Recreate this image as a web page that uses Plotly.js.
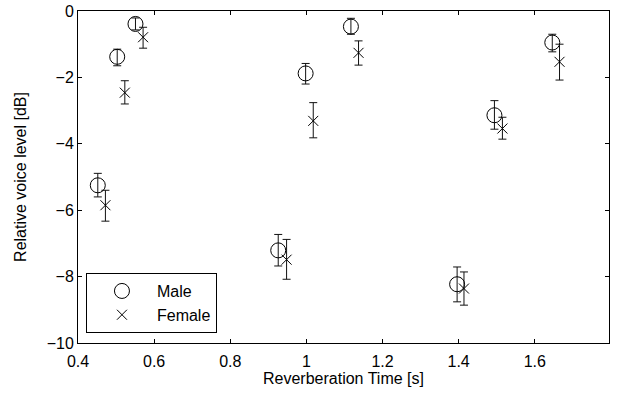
<!DOCTYPE html>
<html>
<head>
<meta charset="utf-8">
<script src="https://cdn.plot.ly/plotly-3.0.1.min.js"></script>
<style>html,body{margin:0;padding:0;background:#fff;}#chart{width:618px;height:398px;}</style>
</head>
<body>
<div id="chart"></div>
<script>
// Reverberation time [s] and relative voice level [dB]
const maleX = [0.452, 0.503, 0.551, 0.926, 0.998, 1.117, 1.396, 1.494, 1.646];
const maleY = [-5.25, -1.38, -0.39, -7.21, -1.88, -0.47, -8.23, -3.14, -0.95];
const maleErrUp = [0.36, 0.23, 0.18, 0.48, 0.30, 0.25, 0.52, 0.44, 0.25];
const maleErrDown = [0.35, 0.27, 0.18, 0.47, 0.32, 0.23, 0.53, 0.42, 0.28];

const femaleX = [0.472, 0.523, 0.571, 0.948, 1.018, 1.137, 1.414, 1.515, 1.665];
const femaleY = [-5.85, -2.46, -0.79, -7.49, -3.31, -1.26, -8.36, -3.54, -1.53];
const femaleErrUp = [0.45, 0.36, 0.30, 0.61, 0.55, 0.36, 0.50, 0.34, 0.53];
const femaleErrDown = [0.48, 0.34, 0.33, 0.59, 0.51, 0.37, 0.50, 0.32, 0.55];

const xTicks = [0.4, 0.6, 0.8, 1.0, 1.2, 1.4, 1.6];
const xTickText = ["0.4", "0.6", "0.8", "1", "1.2", "1.4", "1.6"];
const yTicks = [-10, -8, -6, -4, -2, 0];
const yTickText = ["\u221210", "\u22128", "\u22126", "\u22124", "\u22122", "0"];

const FONT = "Liberation Sans, Arial, Helvetica, sans-serif";

const traces = [
  {
    x: maleX, y: maleY, name: "Male", type: "scatter", mode: "markers",
    marker: {symbol: "circle-open", size: 15, color: "#000", line: {width: 1, color: "#000"}},
    error_y: {type: "data", symmetric: false, array: maleErrUp, arrayminus: maleErrDown,
              color: "#111", thickness: 1, width: 4}
  },
  {
    x: femaleX, y: femaleY, name: "Female", type: "scatter", mode: "markers",
    marker: {symbol: "x-thin-open", size: 10, color: "#000", line: {width: 1, color: "#000"}},
    error_y: {type: "data", symmetric: false, array: femaleErrUp, arrayminus: femaleErrDown,
              color: "#111", thickness: 1, width: 4}
  }
];

const layout = {
  width: 618, height: 398,
  margin: {l: 78, r: 9, t: 11, b: 55, pad: 0},
  paper_bgcolor: "#fff", plot_bgcolor: "#fff",
  font: {family: FONT, size: 16, color: "#000"},
  showlegend: true,
  legend: {
    x: 0.015, y: 0.03, xanchor: "left", yanchor: "bottom",
    bordercolor: "#000", borderwidth: 1, bgcolor: "#fff",
    font: {family: FONT, size: 16, color: "#000"},
    itemwidth: 60, tracegroupgap: 0
  },
  xaxis: {
    range: [0.4, 1.795], autorange: false,
    tickmode: "array", tickvals: xTicks, ticktext: xTickText,
    ticks: "inside", ticklen: 4, tickwidth: 1, tickcolor: "#000",
    showline: true, linecolor: "#000", linewidth: 1, mirror: "ticks",
    showgrid: false, zeroline: false,
    tickfont: {family: FONT, size: 16},
    ticklabelstandoff: 4,
    title: {text: "Reverberation Time [s]", font: {family: FONT, size: 16}, standoff: 0},
    automargin: false
  },
  yaxis: {
    range: [-10, 0], autorange: false,
    tickmode: "array", tickvals: yTicks, ticktext: yTickText,
    ticks: "inside", ticklen: 4, tickwidth: 1, tickcolor: "#000",
    showline: true, linecolor: "#000", linewidth: 1, mirror: "ticks",
    showgrid: false, zeroline: false,
    tickfont: {family: FONT, size: 16},
    title: {text: "Relative voice level [dB]", font: {family: FONT, size: 16}, standoff: 16},
    automargin: false
  }
};

Plotly.newPlot("chart", traces, layout, {staticPlot: true, displayModeBar: false});
</script>
</body>
</html>
